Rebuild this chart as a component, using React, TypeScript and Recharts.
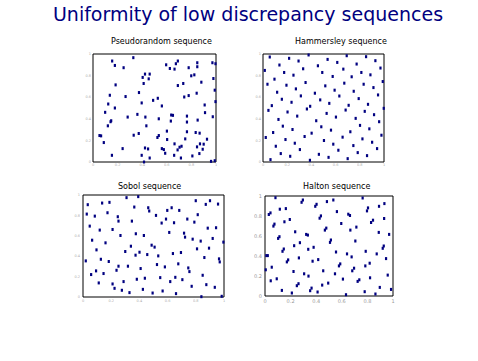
import React from "react";
import { ScatterChart, Scatter, XAxis, YAxis, ReferenceArea } from "recharts";

const chartTitle = "Uniformity of low discrepancy sequences";
const panelTitles = ["Pseudorandom sequence", "Hammersley sequence", "Sobol sequence", "Halton sequence"];
const tickValues = [0, 0.2, 0.4, 0.6, 0.8, 1];

const pseudorandomPoints: [number, number][] = [
  [0.155, 0.935], [0.177, 0.894], [0.327, 0.966], [0.248, 0.873], [0.183, 0.714], [0.136, 0.618],
  [0.123, 0.537], [0.264, 0.606], [0.177, 0.5], [0.098, 0.46], [0.147, 0.382], [0.142, 0.373],
  [0.12, 0.335], [0.281, 0.416], [0.052, 0.245], [0.065, 0.242], [0.087, 0.18], [0.153, 0.062],
  [0.24, 0.124], [0.33, 0.248], [0.371, 0.264], [0.36, 0.441], [0.373, 0.643], [0.395, 0.547],
  [0.403, 0.783], [0.422, 0.814], [0.411, 0.727], [0.452, 0.77], [0.46, 0.814], [0.488, 0.571],
  [0.526, 0.59], [0.559, 0.519], [0.425, 0.416], [0.433, 0.335], [0.534, 0.4], [0.534, 0.245],
  [0.523, 0.227], [0.422, 0.13], [0.447, 0.121], [0.395, 0.062], [0.414, 0.0], [0.46, 0.037],
  [0.559, 0.124], [0.575, 0.115], [0.586, 0.081], [0.6, 0.286], [0.602, 0.208], [0.594, 0.9],
  [0.624, 0.866], [0.662, 0.86], [0.673, 0.91], [0.689, 0.935], [0.689, 0.708], [0.733, 0.727],
  [0.741, 0.602], [0.777, 0.615], [0.777, 0.873], [0.798, 0.798], [0.823, 0.807], [0.847, 0.882],
  [0.847, 0.919], [0.88, 0.739], [0.842, 0.637], [0.97, 0.919], [0.995, 0.91], [0.978, 0.773],
  [0.989, 0.665], [0.995, 0.559], [0.907, 0.528], [0.91, 0.457], [0.973, 0.419], [0.85, 0.388],
  [0.763, 0.425], [0.763, 0.37], [0.763, 0.28], [0.834, 0.273], [0.866, 0.267], [0.926, 0.211],
  [0.869, 0.168], [0.899, 0.165], [0.845, 0.14], [0.891, 0.118], [0.864, 0.078], [0.807, 0.056],
  [0.714, 0.037], [0.687, 0.112], [0.703, 0.137], [0.719, 0.146], [0.749, 0.214], [0.662, 0.168],
  [0.659, 0.062], [0.635, 0.435], [0.649, 0.432], [0.632, 0.379], [0.959, 0.006], [0.989, 0.012],
];

const hammersleyPoints: [number, number][] = [
  [0.061, 0.022], [0.055, 0.972], [0.014, 0.848], [0.036, 0.72], [0.044, 0.478], [0.072, 0.522],
  [0.022, 0.227], [0.083, 0.273], [0.105, 0.146], [0.094, 0.767], [0.116, 0.646], [0.127, 0.394],
  [0.135, 0.898], [0.146, 0.078], [0.155, 0.581], [0.163, 0.332], [0.174, 0.829], [0.185, 0.208],
  [0.193, 0.711], [0.202, 0.463], [0.215, 0.96], [0.224, 0.053], [0.235, 0.553], [0.243, 0.301],
  [0.251, 0.804], [0.262, 0.174], [0.271, 0.677], [0.282, 0.425], [0.293, 0.935], [0.304, 0.115],
  [0.312, 0.612], [0.331, 0.863], [0.343, 0.236], [0.351, 0.736], [0.362, 0.491], [0.376, 0.991],
  [0.387, 0.016], [0.389, 0.516], [0.401, 0.267], [0.428, 0.637], [0.439, 0.382], [0.453, 0.891],
  [0.461, 0.071], [0.472, 0.575], [0.481, 0.326], [0.489, 0.829], [0.503, 0.199], [0.514, 0.705],
  [0.525, 0.45], [0.533, 0.95], [0.541, 0.043], [0.547, 0.543], [0.561, 0.295], [0.575, 0.792],
  [0.58, 0.165], [0.591, 0.665], [0.602, 0.416], [0.613, 0.922], [0.622, 0.109], [0.63, 0.611],
  [0.657, 0.23], [0.663, 0.86], [0.671, 0.73], [0.682, 0.481], [0.691, 0.984], [0.699, 0.031],
  [0.707, 0.525], [0.721, 0.28], [0.732, 0.789], [0.746, 0.152], [0.749, 0.655], [0.765, 0.404],
  [0.773, 0.907], [0.782, 0.087], [0.79, 0.587], [0.801, 0.339], [0.812, 0.829], [0.821, 0.214],
  [0.831, 0.72], [0.84, 0.469], [0.851, 0.975], [0.859, 0.059], [0.867, 0.534], [0.878, 0.307],
  [0.887, 0.807], [0.901, 0.183], [0.912, 0.689], [0.917, 0.438], [0.928, 0.938], [0.942, 0.124],
  [0.95, 0.621], [0.959, 0.373], [0.97, 0.87], [0.978, 0.248], [0.989, 0.745], [0.997, 0.497],
];

const sobolPoints: [number, number][] = [
  [0.033, 0.905], [0.026, 0.813], [0.047, 0.695], [0.064, 0.557], [0.095, 0.462], [0.019, 0.354],
  [0.126, 0.37], [0.092, 0.256], [0.057, 0.22], [0.111, 0.138], [0.135, 0.921], [0.187, 0.928],
  [0.083, 0.793], [0.118, 0.656], [0.173, 0.826], [0.159, 0.531], [0.182, 0.348], [0.145, 0.23],
  [0.209, 0.128], [0.223, 0.085], [0.209, 0.662], [0.246, 0.787], [0.251, 0.744], [0.265, 0.603],
  [0.237, 0.262], [0.251, 0.302], [0.275, 0.066], [0.287, 0.151], [0.299, 0.446], [0.308, 0.974],
  [0.318, 0.302], [0.329, 0.043], [0.339, 0.498], [0.346, 0.744], [0.363, 0.882], [0.374, 0.62],
  [0.372, 0.41], [0.381, 0.174], [0.391, 0.984], [0.4, 0.439], [0.408, 0.279], [0.424, 0.075],
  [0.431, 0.603], [0.438, 0.184], [0.455, 0.416], [0.462, 0.875], [0.469, 0.843], [0.486, 0.508],
  [0.493, 0.039], [0.507, 0.489], [0.517, 0.8], [0.524, 0.318], [0.533, 0.403], [0.547, 0.19],
  [0.557, 0.725], [0.564, 0.059], [0.58, 0.295], [0.588, 0.764], [0.597, 0.849], [0.611, 0.633],
  [0.618, 0.151], [0.628, 0.875], [0.637, 0.426], [0.645, 0.728], [0.654, 0.193], [0.659, 0.033],
  [0.675, 0.325], [0.682, 0.849], [0.694, 0.436], [0.704, 0.17], [0.716, 0.626], [0.723, 0.587],
  [0.739, 0.764], [0.746, 0.285], [0.754, 0.249], [0.77, 0.105], [0.777, 0.567], [0.789, 0.734],
  [0.799, 0.944], [0.808, 0.472], [0.813, 0.807], [0.834, 0.548], [0.839, 0.003], [0.848, 0.213],
  [0.86, 0.387], [0.87, 0.908], [0.874, 0.121], [0.884, 0.675], [0.893, 0.479], [0.9, 0.944],
  [0.919, 0.574], [0.934, 0.095], [0.943, 0.679], [0.957, 0.911], [0.964, 0.374], [0.969, 0.344],
  [0.983, 0.007], [0.995, 0.538],
];

const haltonPoints: [number, number][] = [
  [0.005, 0.262], [0.01, 0.404], [0.021, 0.404], [0.029, 0.815], [0.042, 0.831], [0.052, 0.288],
  [0.044, 0.152], [0.081, 0.983], [0.065, 0.699], [0.073, 0.719], [0.091, 0.172], [0.102, 0.576],
  [0.112, 0.593], [0.115, 0.868], [0.131, 0.056], [0.136, 0.447], [0.146, 0.47], [0.151, 0.742],
  [0.162, 0.874], [0.17, 0.341], [0.18, 0.361], [0.193, 0.765], [0.209, 0.03], [0.222, 0.245],
  [0.227, 0.503], [0.235, 0.642], [0.248, 0.103], [0.261, 0.123], [0.264, 0.381], [0.272, 0.533],
  [0.285, 0.937], [0.295, 0.96], [0.305, 0.222], [0.321, 0.616], [0.339, 0.199], [0.334, 0.609],
  [0.337, 0.467], [0.352, 0.053], [0.363, 0.079], [0.371, 0.348], [0.379, 0.487], [0.392, 0.897],
  [0.402, 0.917], [0.41, 0.04], [0.415, 0.364], [0.426, 0.778], [0.436, 0.801], [0.446, 0.109],
  [0.454, 0.252], [0.467, 0.659], [0.478, 0.679], [0.483, 0.944], [0.493, 0.129], [0.507, 0.536],
  [0.514, 0.56], [0.533, 0.96], [0.546, 0.222], [0.554, 0.44], [0.561, 0.844], [0.577, 0.301],
  [0.587, 0.321], [0.595, 0.725], [0.608, 0.169], [0.632, 0.013], [0.64, 0.421], [0.65, 0.818],
  [0.663, 0.805], [0.666, 0.659], [0.676, 0.391], [0.681, 0.252], [0.695, 0.278], [0.705, 0.55],
  [0.713, 0.689], [0.723, 0.146], [0.736, 0.162], [0.762, 0.98], [0.778, 0.043], [0.783, 0.301],
  [0.786, 0.447], [0.796, 0.851], [0.804, 0.881], [0.817, 0.328], [0.82, 0.182], [0.828, 0.735],
  [0.843, 0.758], [0.862, 0.02], [0.872, 0.421], [0.888, 0.636], [0.896, 0.086], [0.89, 0.897],
  [0.927, 0.5], [0.919, 0.477], [0.932, 0.924], [0.93, 0.775], [0.945, 0.374], [0.958, 0.209],
  [0.969, 0.616], [0.984, 0.066],
];

const NAVY = "#000080";
const FONT = "'DejaVu Sans', Verdana, sans-serif";

const Marker = (props: any) => {
  const { cx, cy } = props;
  if (cx == null || cy == null) return null;
  return <rect x={cx - 1} y={cy - 1.5} width={2.2} height={3} fill={NAVY} />;
};

type PanelProps = {
  points: [number, number][];
  left: number;
  top: number;
  width: number;
  height: number;
  margin: { top: number; right: number; bottom: number; left: number };
  yWidth: number;
  xHeight: number;
  tickFont: number;
  tickFill: string;
  tickGap: number;
};

function Panel(p: PanelProps) {
  const data = p.points.map(([x, y]) => ({ x, y }));
  const tickStyle = { fontSize: p.tickFont, fill: p.tickFill, fontFamily: FONT, opacity: 0.99 };
  return (
    <div style={{ position: "absolute", left: p.left, top: p.top }}>
      <ScatterChart width={p.width} height={p.height} margin={p.margin}>
        <XAxis
          type="number"
          dataKey="x"
          domain={[0, 1]}
          ticks={tickValues}
          height={p.xHeight}
          axisLine={false}
          tickLine={false}
          tickSize={p.tickGap}
          tickMargin={0}
          interval={0}
          tick={tickStyle}
        />
        <YAxis
          type="number"
          dataKey="y"
          domain={[0, 1]}
          ticks={tickValues}
          width={p.yWidth}
          axisLine={false}
          tickLine={false}
          tickSize={p.tickGap}
          tickMargin={0}
          interval={0}
          tick={tickStyle}
        />
        <ReferenceArea x1={0} x2={1} y1={0} y2={1} fill="none" stroke="#000" strokeWidth={1} ifOverflow="visible" />
        <Scatter data={data} shape={Marker} isAnimationActive={false} />
      </ScatterChart>
    </div>
  );
}

const titleStyle = (left: number, top: number): React.CSSProperties => ({
  position: "absolute",
  left,
  top,
  fontFamily: FONT,
  fontSize: 8,
  color: "#000",
  whiteSpace: "nowrap",
  lineHeight: 1,
});

export default function App() {
  return (
    <div style={{ position: "absolute", left: 0, top: 0, width: 478, height: 361, background: "#fff", overflow: "hidden" }}>
      <div
        style={{
          position: "absolute",
          left: 9,
          width: 478,
          top: 5,
          textAlign: "center",
          fontFamily: FONT,
          fontSize: 19,
          color: NAVY,
          whiteSpace: "nowrap",
          lineHeight: 1,
        }}
      >
        {chartTitle}
      </div>
      <div style={titleStyle(111, 38)}>{panelTitles[0]}</div>
      <div style={titleStyle(295, 38)}>{panelTitles[1]}</div>
      <div style={titleStyle(118, 183)}>{panelTitles[2]}</div>
      <div style={titleStyle(303, 183)}>{panelTitles[3]}</div>

      <Panel
        points={pseudorandomPoints}
        left={60}
        top={30}
        width={180}
        height={150}
        margin={{ top: 24, right: 24, bottom: 8, left: 23 }}
        yWidth={10}
        xHeight={10}
        tickFont={3.5}
        tickFill="#aaa"
        tickGap={2}
      />
      <Panel
        points={hammersleyPoints}
        left={230}
        top={30}
        width={180}
        height={150}
        margin={{ top: 24, right: 26, bottom: 8, left: 23 }}
        yWidth={10}
        xHeight={10}
        tickFont={3.5}
        tickFill="#aaa"
        tickGap={2}
      />
      <Panel
        points={sobolPoints}
        left={50}
        top={171}
        width={200}
        height={150}
        margin={{ top: 24, right: 26, bottom: 12, left: 23 }}
        yWidth={10}
        xHeight={12}
        tickFont={3.5}
        tickFill="#aaa"
        tickGap={3}
      />
      <Panel
        points={haltonPoints}
        left={232}
        top={172}
        width={180}
        height={150}
        margin={{ top: 24, right: 19, bottom: 14, left: 21 }}
        yWidth={12}
        xHeight={12}
        tickFont={5}
        tickFill="#999"
        tickGap={3}
      />
    </div>
  );
}
